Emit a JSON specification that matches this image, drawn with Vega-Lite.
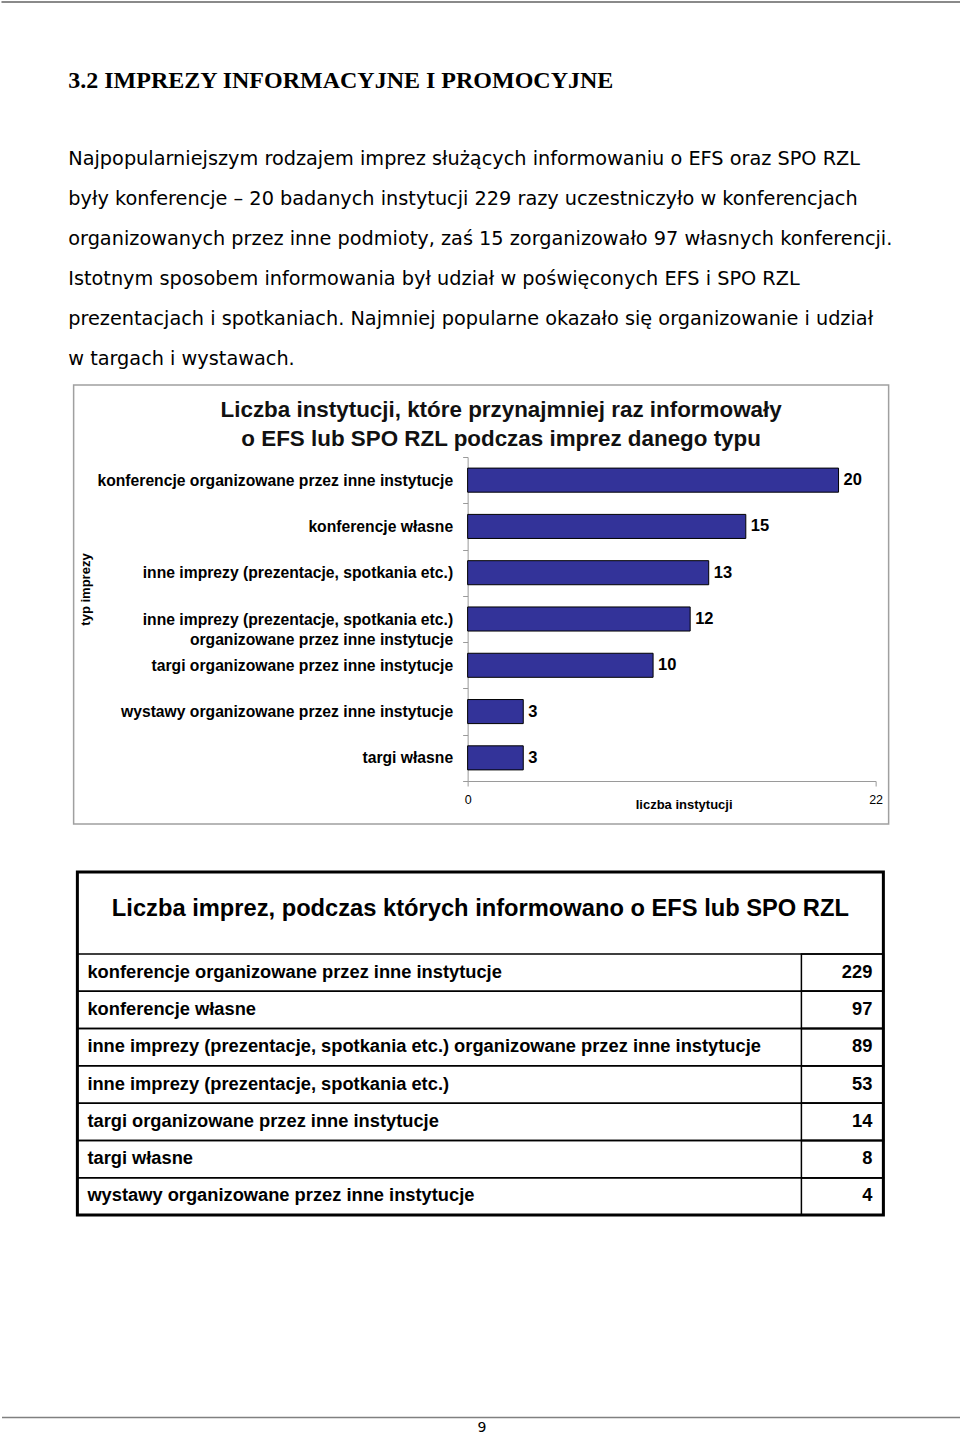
{
  "$schema": "https://vega.github.io/schema/vega-lite/v6.json",
  "background": "white",
  "padding": {"left": 0, "right": 0, "top": 0, "bottom": 0},
  "config": {"view": {"stroke": null}, "font": "Liberation Sans"},
  "datasets": {
    "instytucje": [
      {"typ": "konferencje organizowane przez inne instytucje", "liczba": 20},
      {"typ": "konferencje własne", "liczba": 15},
      {"typ": "inne imprezy (prezentacje, spotkania etc.)", "liczba": 13},
      {"typ": "inne imprezy (prezentacje, spotkania etc.) organizowane przez inne instytucje", "liczba": 12},
      {"typ": "targi organizowane przez inne instytucje", "liczba": 10},
      {"typ": "wystawy organizowane przez inne instytucje", "liczba": 3},
      {"typ": "targi własne", "liczba": 3}
    ],
    "imprezy": [
      {"nazwa": "konferencje organizowane przez inne instytucje", "liczba": 229},
      {"nazwa": "konferencje własne", "liczba": 97},
      {"nazwa": "inne imprezy (prezentacje, spotkania etc.) organizowane przez inne instytucje", "liczba": 89},
      {"nazwa": "inne imprezy (prezentacje, spotkania etc.)", "liczba": 53},
      {"nazwa": "targi organizowane przez inne instytucje", "liczba": 14},
      {"nazwa": "targi własne", "liczba": 8},
      {"nazwa": "wystawy organizowane przez inne instytucje", "liczba": 4}
    ],
    "strona": [{"numer": "9"}]
  },
  "spacing": 6,
  "center": true,
  "vconcat": [
    {
      "width": 960,
      "height": 1,
      "view": {"stroke": "#8a8a8a", "strokeWidth": 1},
      "title": {
        "text": "3.2 IMPREZY INFORMACYJNE I PROMOCYJNE",
        "subtitle": [
          "Najpopularniejszym rodzajem imprez służących informowaniu o EFS oraz SPO RZL",
          "były konferencje – 20 badanych instytucji 229 razy uczestniczyło w konferencjach",
          "organizowanych przez inne podmioty, zaś 15 zorganizowało 97 własnych konferencji.",
          "Istotnym sposobem informowania był udział w poświęconych EFS i SPO RZL",
          "prezentacjach i spotkaniach. Najmniej popularne okazało się organizowanie i udział",
          "w targach i wystawach."
        ],
        "orient": "bottom",
        "anchor": "start",
        "frame": "group",
        "dx": 67,
        "offset": 67,
        "baseline": "top",
        "font": "Liberation Serif",
        "fontSize": 24,
        "fontWeight": "bold",
        "color": "#000",
        "subtitleFont": "DejaVu Sans",
        "subtitleFontSize": 19.3,
        "subtitleColor": "#000",
        "subtitleLineHeight": 40,
        "subtitlePadding": 57
      },
      "data": {"name": "strona"},
      "mark": {"type": "point", "opacity": 0, "size": 0},
      "encoding": {}
    },
    {
      "spacing": 45,
      "center": true,
      "vconcat": [
        {
          "width": 815,
          "height": 439,
          "view": {"stroke": "#a0a0a0", "strokeWidth": 1.5},
          "title": {
            "text": ["Liczba instytucji, które przynajmniej raz informowały", "o EFS lub SPO RZL podczas imprez danego typu"],
            "font": "Liberation Sans",
            "fontSize": 22.4,
            "fontWeight": "bold",
            "color": "#111",
            "lineHeight": 29,
            "anchor": "middle",
            "baseline": "top",
            "dx": 20,
            "offset": -73
          },
          "data": {"name": "instytucje"},
          "encoding": {
            "y": {
              "field": "typ",
              "type": "nominal",
              "sort": null,
              "scale": {"range": [72, 396], "paddingInner": 0, "paddingOuter": 0},
              "axis": {
                "title": "typ imprezy",
                "offset": -394,
                "tickBand": "extent",
                "domainColor": "#9a9a9a",
                "tickColor": "#9a9a9a",
                "tickSize": 5,
                "labelPadding": 10,
                "labelFont": "Liberation Sans",
                "labelFontSize": 15.7,
                "labelFontWeight": "bold",
                "labelColor": "#000",
                "labelLimit": 600,
                "labelLineHeight": 20,
                "labelExpr": "datum.label == 'inne imprezy (prezentacje, spotkania etc.) organizowane przez inne instytucje' ? ['inne imprezy (prezentacje, spotkania etc.)', 'organizowane przez inne instytucje'] : datum.label",
                "titleX": -382,
                "titleY": 204,
                "titleAngle": -90,
                "titleAlign": "center",
                "titleBaseline": "middle",
                "titleFont": "Liberation Sans",
                "titleFontSize": 13,
                "titleFontWeight": "bold",
                "titleColor": "#000"
              }
            }
          },
          "layer": [
            {
              "mark": {"type": "bar", "color": "#333399", "stroke": "#000", "strokeWidth": 1, "height": {"band": 0.52}},
              "encoding": {
                "x": {
                  "field": "liczba",
                  "type": "quantitative",
                  "scale": {"domain": [0, 22], "range": [394, 802], "nice": false},
                  "axis": {
                    "values": [0, 22],
                    "offset": -43,
                    "grid": false,
                    "title": "liczba instytucji",
                    "domainColor": "#9a9a9a",
                    "tickColor": "#9a9a9a",
                    "tickSize": 5,
                    "labelFlush": false,
                    "labelFont": "Liberation Sans",
                    "labelFontSize": 12.5,
                    "labelColor": "#000",
                    "labelPadding": 7,
                    "titleFont": "Liberation Sans",
                    "titleFontSize": 13,
                    "titleFontWeight": "bold",
                    "titleColor": "#000",
                    "titleX": 610,
                    "titleY": 23,
                    "titleBaseline": "middle"
                  }
                }
              }
            },
            {
              "mark": {"type": "text", "align": "left", "baseline": "middle", "dx": 5, "font": "Liberation Sans", "fontSize": 16.5, "fontWeight": "bold", "color": "#000"},
              "encoding": {
                "x": {"field": "liczba", "type": "quantitative"},
                "text": {"field": "liczba", "type": "quantitative"}
              }
            }
          ]
        },
        {
          "width": 806,
          "height": 343,
          "view": {"stroke": "#000", "strokeWidth": 3},
          "title": {
            "text": "Liczba imprez, podczas których informowano o EFS lub SPO RZL",
            "font": "Liberation Sans",
            "fontSize": 23.7,
            "fontWeight": "bold",
            "color": "#000",
            "anchor": "middle",
            "baseline": "top",
            "offset": -49
          },
          "data": {"name": "imprezy"},
          "encoding": {
            "y": {
              "field": "nazwa",
              "type": "nominal",
              "sort": null,
              "scale": {"range": [82, 343], "paddingInner": 0, "paddingOuter": 0},
              "axis": null
            }
          },
          "layer": [
            {
              "mark": {"type": "bar", "fill": "transparent", "stroke": "#000", "strokeWidth": 1.5, "height": {"band": 1}},
              "encoding": {
                "x": {"datum": 0, "type": "quantitative", "scale": {"domain": [0, 100], "nice": false, "zero": false}, "axis": null},
                "x2": {"datum": 100}
              }
            },
            {
              "mark": {"type": "bar", "fill": "transparent", "stroke": "#000", "strokeWidth": 1.5, "height": {"band": 1}},
              "encoding": {
                "x": {"datum": 89.83, "type": "quantitative"},
                "x2": {"datum": 100}
              }
            },
            {
              "mark": {"type": "text", "align": "left", "baseline": "middle", "dx": 10, "font": "Liberation Sans", "fontSize": 18.3, "fontWeight": "bold", "color": "#000"},
              "encoding": {
                "x": {"datum": 0, "type": "quantitative"},
                "text": {"field": "nazwa", "type": "nominal"}
              }
            },
            {
              "mark": {"type": "text", "align": "right", "baseline": "middle", "dx": -11, "font": "Liberation Sans", "fontSize": 18.3, "fontWeight": "bold", "color": "#000"},
              "encoding": {
                "x": {"datum": 100, "type": "quantitative"},
                "text": {"field": "liczba", "type": "quantitative"}
              }
            }
          ]
        },
        {
          "width": 960,
          "height": 154,
          "view": {"stroke": null},
          "data": {"name": "strona"},
          "mark": {"type": "point", "opacity": 0, "size": 0},
          "encoding": {
            "x": {
              "field": "numer",
              "type": "nominal",
              "axis": {
                "title": null,
                "orient": "bottom",
                "labelAngle": 0,
                "domainColor": "#808080",
                "domainWidth": 1.5,
                "ticks": false,
                "labelFont": "DejaVu Sans",
                "labelFontSize": 14,
                "labelColor": "#000",
                "labelPadding": 3
              }
            }
          }
        }
      ]
    }
  ]
}
